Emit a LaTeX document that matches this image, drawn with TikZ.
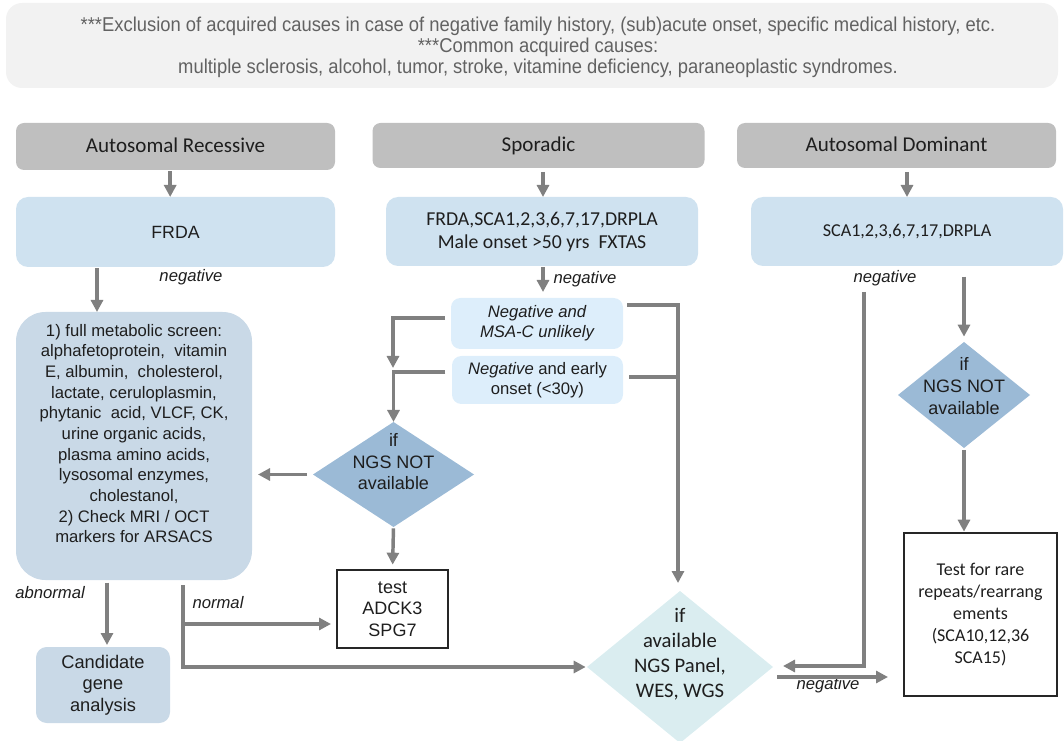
\documentclass[tikz,border=0pt]{standalone}
\usepackage{fontspec}
\setmainfont{Liberation Sans}
\newfontfamily\calfont{Carlito}
\usetikzlibrary{arrows.meta,shapes.geometric}

\definecolor{hdrgray}{HTML}{BFBFBF}
\definecolor{boxblue}{HTML}{CFE2F0}
\definecolor{screenblue}{HTML}{C9D9E7}
\definecolor{paleblue}{HTML}{DDEEFB}
\definecolor{decblue}{HTML}{9BBAD6}
\definecolor{ngscyan}{HTML}{DAEDF0}
\definecolor{linegray}{HTML}{808080}
\definecolor{bannergray}{HTML}{F2F2F2}
\definecolor{bannertext}{HTML}{626262}
\definecolor{inktext}{HTML}{1E1E1E}

\begin{document}
\begin{tikzpicture}[x=0.75pt,y=-0.75pt,
  wh/.style 2 args={minimum width=#1*0.75pt, minimum height=#2*0.75pt},
  base/.style={inner sep=0pt, outer sep=0pt, text=inktext, align=center},
  header/.style={base, fill=hdrgray, rounded corners=6pt,
    font=\calfont\fontsize{15.8}{18}\selectfont},
  testbox/.style={base, fill=boxblue, rounded corners=9pt},
  screen/.style={base, fill=screenblue},
  pale/.style={base, fill=paleblue, rounded corners=7pt,
    font=\fontsize{12.5}{15}\selectfont},
  decision/.style={base, shape=diamond, draw=none},
  plainbox/.style={base, draw=black!85, line width=0.9pt},
  lbl/.style={inner sep=0pt, font=\itshape\fontsize{12.5}{15}\selectfont, text=inktext},
  link/.style={draw=linegray, line width=2.6pt},
  flow/.style={link, -{Triangle[length=9pt,width=9pt]}},
]
\useasboundingbox (0,0) rectangle (1064,741);

% banner of acquired causes
\node[base, fill=bannergray, rounded corners=12pt, wh={1052}{85}] (banner) at (532,45.5) {};
\node[base, text=bannertext, font=\fontsize{15}{15.75}\selectfont] (bannertxt) at (538,48.5)
  {\scalebox{0.92}[1]{\begin{tabular}{@{}c@{}}
   ***Exclusion of acquired causes in case of negative family history, (sub)acute onset, specific medical history, etc.\\
   {}***Common acquired causes:\\
   multiple sclerosis, alcohol, tumor, stroke, vitamine deficiency, paraneoplastic syndromes.
   \end{tabular}}};

% inheritance headers
\node[header, wh={319}{47}] (hAR) at (175.5,146.5) {\raisebox{2.2pt}{Autosomal Recessive}};
\node[header, wh={332}{45}] (hSP) at (538.5,145.5) {\raisebox{-1.5pt}{Sporadic}};
\node[header, wh={319}{45}] (hAD) at (896.5,145.5) {\raisebox{1.5pt}{Autosomal Dominant}};

% first-line tests
\node[testbox, wh={319}{70}, font=\fontsize{13.3}{16}\selectfont] (bFR) at (175.5,232) {FRDA};
\node[testbox, wh={312}{69}, font=\calfont\fontsize{14.8}{17.25}\selectfont] (bSP) at (542,231.5)
  {FRDA,SCA1,2,3,6,7,17,DRPLA\\Male onset >50 yrs\ \ FXTAS};
\node[testbox, wh={312}{69}, font=\calfont\fontsize{13.6}{16}\selectfont] (bAD) at (907,231.5)
  {SCA1,2,3,6,7,17,DRPLA};

% metabolic screen
\node[screen, rounded corners=22pt, wh={236}{268}] (mS) at (134,446) {};
\node[base, font=\fontsize{12.5}{15.5}\selectfont] (mStxt) at ([yshift=9.4pt]mS.center)
  {1) full metabolic screen:\\
   alphafetoprotein,\ \ vitamin\\
   E, albumin,\ \ cholesterol,\\
   lactate, ceruloplasmin,\\
   phytanic\ \ acid, VLCF, CK,\\
   urine organic acids,\\
   plasma amino acids,\\
   lysosomal enzymes,\\
   cholestanol,\\
   2) Check MRI / OCT\\
   markers for ARSACS};
\node[screen, rounded corners=8pt, wh={134}{76}, font=\fontsize{13.7}{16}\selectfont] (cG) at (103,685)
  {Candidate\\gene\\analysis};

% sporadic branches
\node[pale, wh={172}{51}] (pM) at (537,323.5) {\itshape Negative and\\\itshape MSA-C unlikely};
\node[pale, wh={171}{48}] (pE) at (537.5,380) {\textit{Negative} and early\\onset (<30y)};

% decisions
\node[decision, fill=decblue, wh={161}{105}] (dL) at (393.5,474.5) {};
\node[base, font=\fontsize{13.5}{16.1}\selectfont] (dLtxt) at ([yshift=9.6pt]dL.center) {if\\NGS NOT\\available};
\node[decision, fill=decblue, wh={132}{106}] (dR) at (964,395) {};
\node[base, font=\fontsize{13.5}{16.5}\selectfont] (dRtxt) at ([yshift=7pt]dR.center) {if\\NGS NOT\\available};
\node[decision, fill=ngscyan, wh={186}{152}] (dN) at (680,667) {};
\node[base, font=\calfont\fontsize{15.5}{18.75}\selectfont] (dNtxt) at ([yshift=9.4pt]dN.center)
  {if\\available\\NGS Panel,\\WES, WGS};

% targeted tests
\node[plainbox, wh={111}{78}, font=\fontsize{13.5}{16}\selectfont] (tA) at (392.5,609) {test\\ADCK3\\SPG7};
\node[plainbox, wh={153}{163}, font=\calfont\fontsize{13.5}{16.5}\selectfont] (tR) at (980.5,614.5)
  {Test for rare\\repeats/rearrang\\ements\\(SCA10,12,36\\SCA15)};

% branch labels
\node[lbl] (nFR) at (191,277) {negative};
\node[lbl] (nSP) at (585,279) {negative};
\node[lbl] (nAD) at (885,278) {negative};
\node[lbl] (nNG) at (828,685) {negative};
\node[lbl] (lAb) at (50,593) {abnormal};
\node[lbl] (lNo) at (218,603) {normal};

% helper points for connectors
\coordinate (xFR) at (97,0);
\coordinate (xSP) at (543,0);
\coordinate (xAb) at (107,0);
\coordinate (xNG) at (678,0);
\coordinate (vM) at (393,368);
\coordinate (nrm) at (183,585);
\coordinate (nb) at (183,624);
\coordinate (adt) at (864,292);
\coordinate (eE) at ([shift={(4.5pt,2.25pt)}]pE.east);

% headers to first-line tests
\draw[flow, shorten <=1pt] ([xshift=-4pt]hAR.south) -- ([xshift=-4pt]bFR.north);
\draw[flow, shorten <=3pt] (hSP.south -| xSP) -- (bSP.north -| xSP);
\draw[flow, shorten <=3pt] (hAD.south -| bAD.north) -- (bAD.north);

% recessive pathway
\draw[flow, shorten <=1pt] (bFR.south -| xFR) -- (mS.north -| xFR);
\draw[flow, shorten <=2pt, shorten >=1.5pt] (mS.south -| xAb) -- (cG.north -| xAb);
\draw[link] (nrm) -- (nb);
\draw[flow, shorten >=4.5pt] (nb) -- (nb -| tA.west);
\draw[flow, shorten >=1pt] (nb) |- (dN.west);

% sporadic pathway
\draw[flow, shorten <=1pt, shorten >=4.5pt] (bSP.south -| xSP) -- (pM.north -| xSP);
\draw[flow] ([shift={(-4.5pt,4pt)}]pM.west) -| (vM);
\draw[flow] ([shift={(-5pt,6pt)}]pE.west) -| (dL.north);
\draw[flow, shorten >=6pt] ([shift={(3pt,14pt)}]pM.east) -| (dN.north -| xNG);
\draw[link] (eE) -- (eE -| xNG);
\draw[flow, shorten <=4.5pt, shorten >=4.5pt] (dL.west) -- (dL.west -| mS.east);
\draw[flow, shorten <=1pt, shorten >=4pt] (dL.south) -- (tA.north);

% dominant pathway
\draw[flow, shorten <=8pt, shorten >=4pt] (bAD.south -| dR.north) -- (dR.north);
\draw[flow, shorten <=1.5pt, shorten >=1pt] (dR.south) -- (dR.south |- tR.north);
\draw[flow, shorten >=7.5pt] (adt) |- ([yshift=0.75pt]dN.east);
\draw[flow, shorten <=3pt, shorten >=12pt] ([yshift=-7.5pt]dN.east) -- ([yshift=-7.5pt]dN.east -| tR.west);
\end{tikzpicture}
\end{document}
